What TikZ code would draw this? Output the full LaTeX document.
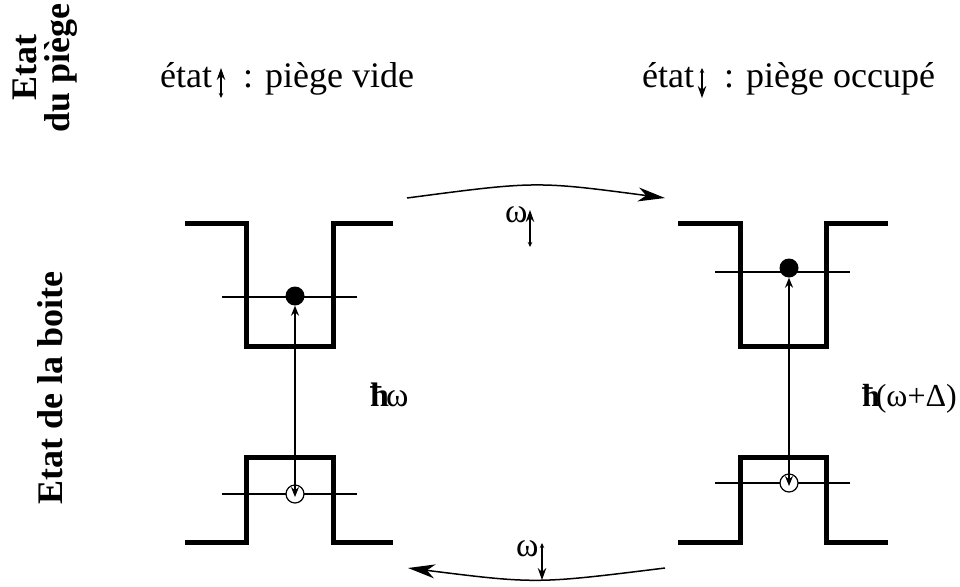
\documentclass[tikz,border=0pt]{standalone}
\usepackage{fontspec}
\setmainfont{Liberation Serif}
\usetikzlibrary{arrows.meta}
\tikzset{
  well/.style={line width=5pt},
  level/.style={line width=1.8pt},
  trans/.style={line width=1.3pt, {Stealth[length=10pt,width=8pt]}-{Stealth[length=10pt,width=8pt]}},
  hop/.style={line width=1.5pt, -{Stealth[length=27pt,width=14pt,inset=8pt]}},
  spinup/.style={line width=1.2pt, {Stealth[length=5pt,width=4.5pt]}-{Stealth[length=12pt,width=8.5pt]}},
  spindown/.style={line width=1.2pt, {Stealth[length=5pt,width=4.5pt]}-{Stealth[length=12pt,width=8.5pt]}},
  big/.style={font=\fontsize{36}{36}\selectfont, inner sep=0pt},
  mid/.style={font=\fontsize{34}{34}\selectfont, inner sep=0pt},
  small/.style={font=\fontsize{34}{34}\selectfont, inner sep=0pt},
  elec/.style={circle, fill=black, minimum size=19pt, inner sep=0pt},
  hole/.style={circle, draw, line width=1.2pt, minimum size=18pt, inner sep=0pt, fill=white},
}
\begin{document}
\begin{tikzpicture}[x=1pt,y=-1pt]
\useasboundingbox (0,0) rectangle (960,586);

% side labels
\node[font=\fontsize{36}{36}\selectfont\bfseries, rotate=90, align=center, inner sep=0pt] (lpiege) at (45,68) {Etat\\[-3pt]du piège};
\node[font=\fontsize{36}{36}\selectfont\bfseries, rotate=90, anchor=base, inner sep=0pt] (lboite) at (62,388) {Etat de la boite};

% state texts
\node[big, anchor=base west] (s1a) at (160,87) {état};
\node[big, anchor=base west] (s1b) at (243,87) {: piège vide};
\coordinate (u1b) at (221,98);
\coordinate (u1t) at (221,68);
\draw[spinup] (u1b) -- (u1t);

\node[big, anchor=base west] (s2a) at (642,87) {état};
\node[big, anchor=base west] (s2b) at (724,87) {: piège occupé};
\coordinate (d2t) at (702,68);
\coordinate (d2b) at (702,98);
\draw[spindown] (d2t) -- (d2b);

% left wells
\draw[well] (185,223) -- (246,223) -- (246,346) -- (333,346) -- (333,223) -- (393,223);
\draw[well] (185,542) -- (246,542) -- (246,457) -- (333,457) -- (333,542) -- (393,542);
\draw[level] (222,297) -- (357,297);
\draw[level] (222,494) -- (357,494);
\node[elec] (e1) at (295,296) {};
\node[hole] (h1) at (295,494) {};
\draw[trans] (e1.south) -- ([yshift=-3pt]h1.center);

% right wells
\draw[well] (678,223) -- (740,223) -- (740,346) -- (826,346) -- (826,223) -- (888,223);
\draw[well] (678,542) -- (740,542) -- (740,457) -- (826,457) -- (826,542) -- (888,542);
\draw[level] (715,272) -- (850,272);
\draw[level] (715,483) -- (850,483);
\node[elec] (e2) at (789,268) {};
\node[hole] (h2) at (789,483) {};
\draw[trans] (e2.south) -- ([yshift=-3pt]h2.center);

% energy labels
\node[mid, anchor=base west] (hw) at (370,406) {\textbf{ħ}\kern-3pt ω};
\node[font=\fontsize{32}{32}\selectfont, inner sep=0pt, anchor=base east] (hwd) at (957,406) {\textbf{ħ}\kern-4pt(ω+Δ)};

% hopping arrows
\coordinate (t1) at (407,198);
\coordinate (t2) at (665,198);
\draw[hop] (t1) .. controls (536,181) .. (t2);
\coordinate (b1) at (665,568);
\coordinate (b2) at (408,568);
\draw[hop] (b1) .. controls (536,584) .. (b2);

\node[small, anchor=base west] (w1) at (505,222) {ω};
\coordinate (w1b) at (530,247);
\coordinate (w1t) at (530,210);
\draw[spinup] (w1b) -- (w1t);

\node[small, anchor=base west] (w2) at (516,556) {ω};
\coordinate (w2t) at (542,543);
\coordinate (w2b) at (542,580);
\draw[spindown] (w2t) -- (w2b);
\end{tikzpicture}
\end{document}
